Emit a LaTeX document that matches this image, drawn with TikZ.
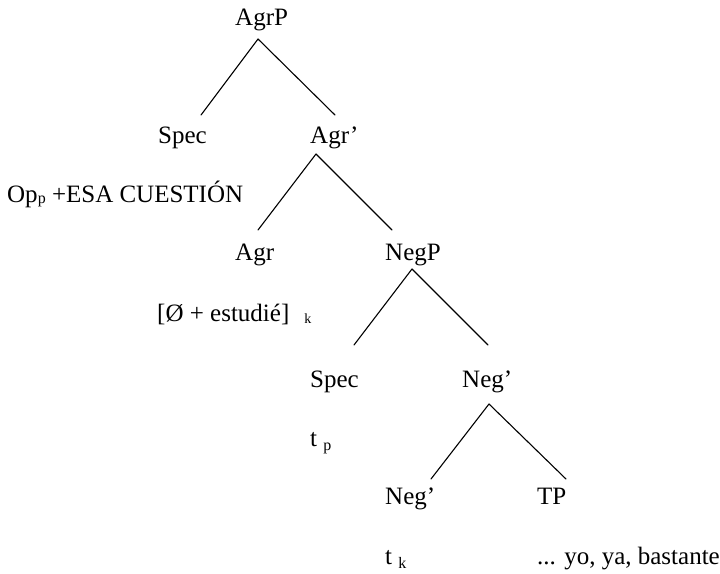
\documentclass[tikz,border=0pt]{standalone}
\usepackage{fontspec}
\setmainfont{Liberation Serif}
\usetikzlibrary{calc}
% small lowered index after a label
\newcommand\lowidx[3]{\raisebox{-#1}{\fontsize{#2}{#2}\selectfont #3}}
\begin{document}
\begin{tikzpicture}[x=1pt,y=-1pt,
  lbl/.style={anchor=base west,inner sep=0pt,font=\fontsize{25}{30}\selectfont},
  branch/.style={line width=1.1pt,line cap=round}]
\useasboundingbox (0,0) rectangle (720,573);

% labels of the tree
\node[lbl] (agrp)    at (235,25)    {AgrP};
\node[lbl] (spec1)   at (158,143)   {Spec};
\node[lbl] (agrbar)  at (310,143)   {Agr’};
\node[lbl] (op)      at (7,202)     {Op\lowidx{1.5pt}{16}{p} +ESA CUESTIÓN};
\node[lbl] (agr)     at (235,260)   {Agr};
\node[lbl] (negp)    at (385,260)   {NegP};
\node[lbl] (verb)    at (157,321.5) {[Ø + estudié]\hspace{15pt}\lowidx{1.5pt}{14}{k}};
\node[lbl] (spec3)   at (310,387)   {Spec};
\node[lbl] (negbar)  at (462,387)   {Neg’};
\node[lbl] (tracep)  at (310,446)   {t \lowidx{4pt}{16}{p}};
\node[lbl] (negbarb) at (385,504)   {Neg’};
\node[lbl] (tp)      at (537,504)   {TP};
\node[lbl] (tracek)  at (385,564)   {t \lowidx{4pt}{16}{k}};
\node[lbl] (rest)    at (537,564)   {... yo, ya, bastante};

% branches
\draw[branch] ($(agrp.base west)+(23,14)$)   -- ($(spec1.base west)+(43,-28)$);
\draw[branch] ($(agrp.base west)+(23,14)$)   -- ($(agrbar.base west)+(25,-28)$);
\draw[branch] ($(agrbar.base west)+(6,11)$)  -- ($(agr.base west)+(23,-30)$);
\draw[branch] ($(agrbar.base west)+(6,11)$)  -- ($(negp.base west)+(7,-30)$);
\draw[branch] ($(negp.base west)+(27,9)$)    -- ($(spec3.base west)+(44,-42)$);
\draw[branch] ($(negp.base west)+(27,9)$)    -- ($(negbar.base west)+(26,-42)$);
\draw[branch] ($(negbar.base west)+(27,17)$) -- ($(negbarb.base west)+(46,-25)$);
\draw[branch] ($(negbar.base west)+(27,17)$) -- ($(tp.base west)+(29,-25)$);
\end{tikzpicture}
\end{document}
